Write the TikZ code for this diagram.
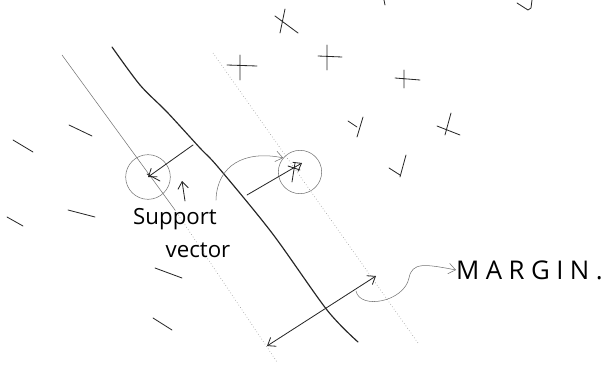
\documentclass[tikz,border=0pt]{standalone}
\usepackage{fontspec}
\newfontfamily\handfont{Open Sans}
\newfontfamily\handwide[LetterSpace=25]{Open Sans}
\usetikzlibrary{arrows.meta}

\begin{document}
\begin{tikzpicture}[x=0.03cm,y=-0.03cm,
  pencil/.style={line width=0.7pt,black!85,line cap=round,line join=round},
  faint/.style={line width=0.45pt,black!55,line cap=round},
  dots/.style={line width=0.5pt,black!45,dotted},
  handtext/.style={font=\handfont\fontsize{19}{21}\selectfont,inner sep=0pt},
  >={Straight Barb[length=6pt,width=9pt]}]
\useasboundingbox (0,0) rectangle (609,365);

%=== hyperplane and the two margin lines ===
\draw[pencil,line width=1pt] plot[smooth] coordinates
  {(112,47) (140,85) (167,112) (200,148) (218,167) (272,233) (327,310) (358,342)};
\draw[faint] (62,55) -- (175,210);
\draw[dots] (175,210) -- (277,362);
\draw[dots] (213,53) -- (418,343);

%=== positive samples (two strokes each)
\foreach \a/\b/\c/\d/\e/\f/\g/\h in {285/9/280/33/275/16/298/33,
    240/55/240/80/227/65/257/66, 327/45/327/70/318/56/342/57,
    404/70/404/88/395/78/420/80, 363/117/357/137/348/121/357/127,
    451/113/445/135/437/126/460/135, 406/155/400/177/389/168/400/175}
  \draw[pencil] (\a,\b) -- (\c,\d) (\e,\f) -- (\g,\h);

%=== negative samples
\foreach \a/\b/\c/\d in {69/125/92/136, 13/140/33/152, 68/210/95/217,
    7/217/23/226, 155/268/182/278, 153/318/172/330}
  \draw[pencil] (\a,\b) -- (\c,\d);

% bits cut off at the top edge
\draw[pencil] (384,0) -- (385,5);
\draw[pencil] (517,3) -- (528,10) -- (531,8) -- (532,0);

%=== support vectors
\node[circle,draw,faint,minimum size=1.34cm,inner sep=0pt] (svneg) at (148,177) {};
\node[circle,draw,faint,minimum size=1.3cm,inner sep=0pt] (svpos) at (300,172) {};
\draw[pencil] (147,174) -- (160,181);
\draw[pencil] (295,163) -- (292,182) (288,166) -- (300,170);

\coordinate (hleft) at (193,145);
\coordinate (hright) at (247,195);
\coordinate (tippos) at (302,163);
\draw[pencil,->] (hleft) -- (svneg.center);
\draw[pencil,->] (hright) -- (tippos);

\node[handtext] (supp) at (175,219) {Support};
\node[handtext] (vect) at (198,250) {vector};
\coordinate (upfoot) at (185,201);
\draw[pencil,->] (upfoot) -- (182,181);
\draw[faint,->] (216,200) .. controls (217,165) and (245,150) .. (svpos.140);

%=== margin width
\coordinate (mlow) at (267,346);
\coordinate (mhigh) at (376,276);
\draw[pencil,<->] (mlow) -- (mhigh);
\node[handtext,font=\handwide\fontsize{22}{24}\selectfont,anchor=west] (mlab) at (456,270) {MARGIN.};
\draw[faint,->] (356,291) .. controls (360,310) and (404,302) .. (409,278)
  .. controls (412,262) and (425,264) .. (mlab.west);

\end{tikzpicture}
\end{document}
